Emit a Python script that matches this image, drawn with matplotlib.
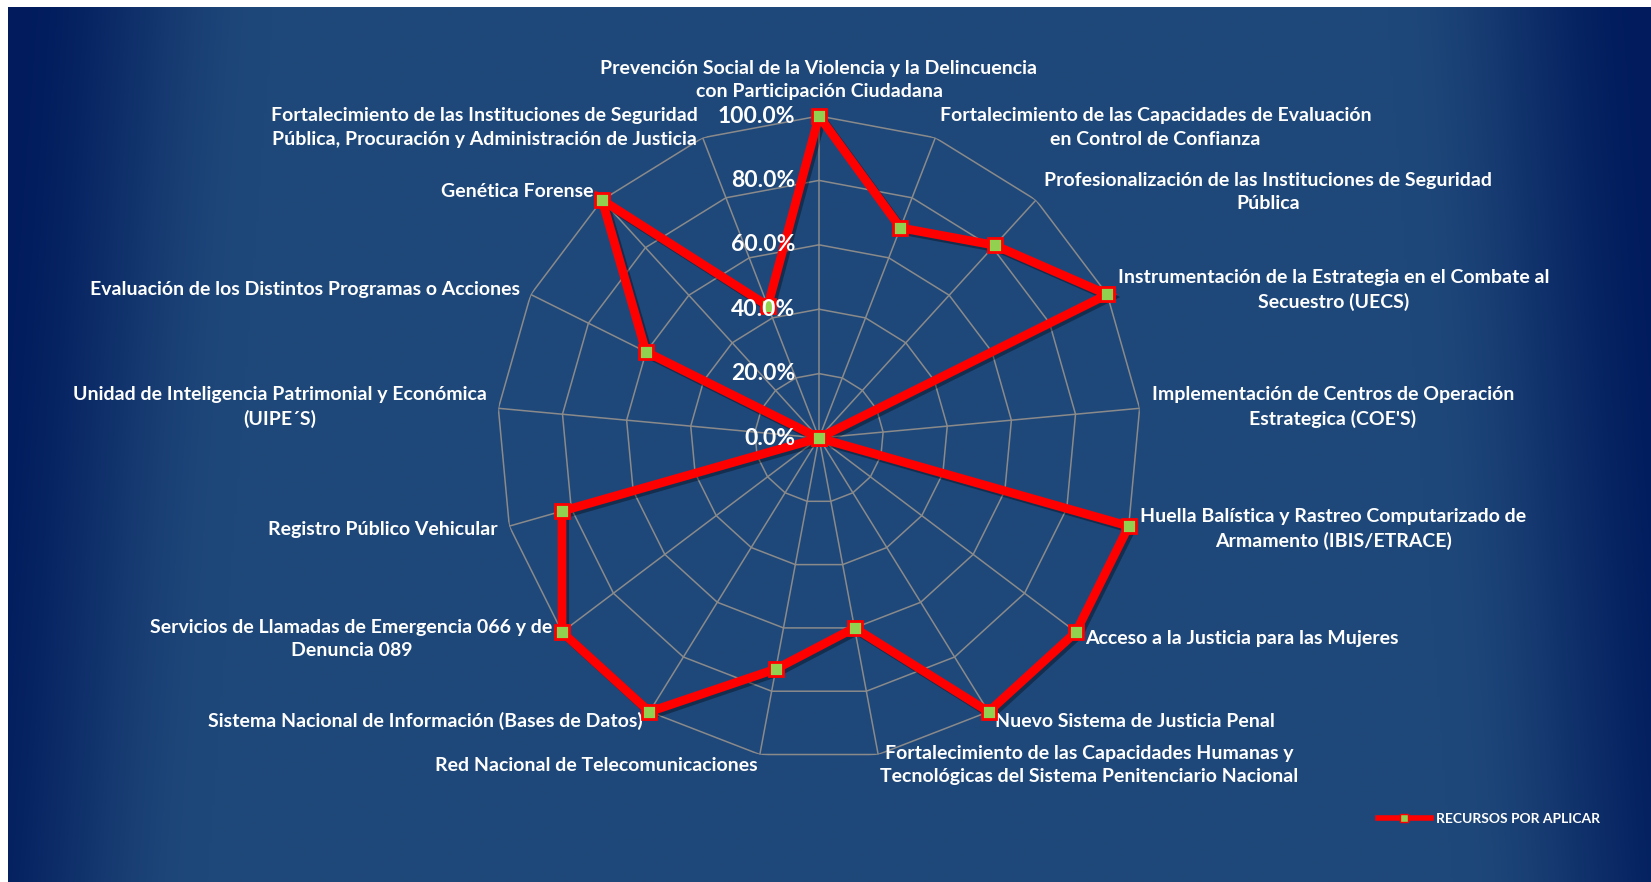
"""
Radar chart: share of resources still to be applied per federal programme.
"""
import matplotlib
matplotlib.use("Agg")
import matplotlib.pyplot as plt
import matplotlib.patheffects as pe
from matplotlib.lines import Line2D
import numpy as np

plt.rcParams["font.family"] = ["Lato", "DejaVu Sans"]

CATEGORIES = [
  "Prevención Social de la Violencia y la Delincuencia\ncon Participación Ciudadana",
  "Fortalecimiento de las Capacidades de Evaluación\nen Control de Confianza",
  "Profesionalización de las Instituciones de Seguridad\nPública",
  "Instrumentación de la Estrategia en el Combate al\nSecuestro (UECS)",
  "Implementación de Centros de Operación\nEstrategica (COE'S)",
  "Huella Balística y Rastreo Computarizado de\nArmamento (IBIS/ETRACE)",
  "Acceso a la Justicia para las Mujeres",
  "Nuevo Sistema de Justicia Penal",
  "Fortalecimiento de las Capacidades Humanas y\nTecnológicas del Sistema Penitenciario Nacional",
  "Red Nacional de Telecomunicaciones",
  "Sistema Nacional de Información (Bases de Datos)",
  "Servicios de Llamadas de Emergencia 066 y de\nDenuncia 089",
  "Registro Público Vehicular",
  "Unidad de Inteligencia Patrimonial y Económica\n(UIPE´S)",
  "Evaluación de los Distintos Programas o Acciones",
  "Genética Forense",
  "Fortalecimiento de las Instituciones de Seguridad\nPública, Procuración y Administración de Justicia",
]
RECURSOS = [1.00, 0.70, 0.81, 1.00, 0.00, 1.00, 1.00, 1.00, 0.60,
            0.73, 1.00, 1.00, 0.83, 0.00, 0.60, 1.00, 0.44]
TICKS = [0.0, 0.2, 0.4, 0.6, 0.8, 1.0]
TICK_LABELS = ["0.0%", "20.0%", "40.0%", "60.0%", "80.0%", "100.0%"]
SERIES_NAME = "RECURSOS POR APLICAR"

W, H = 1651, 882
fig = plt.figure(figsize=(W / 100, H / 100), dpi=100)
fig.patch.set_facecolor("white")

# background: navy gradient, lighter in the middle, dark toward left/right edges
bg = fig.add_axes([8 / W, 0, 1 - 8 / W, 1 - 7 / H])
xs = np.linspace(0, 1, 600)
ys = np.linspace(0, 1, 300)
X, Y = np.meshgrid(xs, ys)
d = np.minimum(X + 0.04 * (1 - Y), 1 - X + 0.04 * (1 - Y))
t = np.clip(d / 0.16, 0, 1)
t = t * t * (3 - 2 * t)
edge = np.array([1, 27, 92]) / 255
mid = np.array([31, 72, 122]) / 255
img = edge[None, None, :] * (1 - t[..., None]) + mid[None, None, :] * t[..., None]
bg.imshow(img, aspect="auto", extent=[0, 1, 0, 1], origin="lower")
bg.axis("off")

# polar axes centred at (819, 438) px with radius 322 px
cx, cy, R = 819, 438, 322
ax = fig.add_axes([(cx - R) / W, (H - cy - R) / H, 2 * R / W, 2 * R / H], polar=True)
ax.set_facecolor("none")
ax.set_theta_zero_location("N")
ax.set_theta_direction(-1)
ax.set_ylim(0, 1)
ax.grid(False)
ax.set_xticks([])
ax.set_yticks([])
ax.spines["polar"].set_visible(False)

n = len(CATEGORIES)
theta = np.arange(n) * 2 * np.pi / n
theta_c = np.append(theta, theta[0])

grid_kw = dict(color="#8a8a8a", lw=1.1, zorder=1)
for r in TICKS[1:]:
  ax.plot(theta_c, [r] * (n + 1), **grid_kw)
for a in theta:
  ax.plot([a, a], [0, 1], **grid_kw)

vals = np.append(RECURSOS, RECURSOS[0])
ax.plot(theta_c, vals, color="#ff0000", lw=6.3, zorder=3, solid_joinstyle="miter",
        clip_on=False,
        path_effects=[pe.SimpleLineShadow(offset=(2, -2), alpha=0.35), pe.Normal()])
ax.plot(theta, RECURSOS, ls="none", marker="s", ms=10, mfc="#92d050", mec="#ff0000",
        mew=2, zorder=4, clip_on=False)

for r, lab in zip(TICKS, TICK_LABELS):
  ax.annotate(lab, xy=(0, r), xytext=(-24, 0), textcoords="offset pixels",
              ha="right", va="center", color="white", fontsize=16.5,
              fontweight="bold", zorder=5)

for a, lab in zip(theta, CATEGORIES):
  s, c = np.sin(a), np.cos(a)
  ha = "left" if s > 0.1 else ("right" if s < -0.1 else "center")
  if abs(s) < 0.1 and c > 0:
    va, dx, dy = "bottom", 0, 16
  else:
    va, dx, dy = "center", 12 * s, 11 * c
  ax.annotate(lab, xy=(a, 1), xytext=(dx, dy), textcoords="offset pixels",
              ha=ha, va=va, multialignment="center", color="white",
              fontsize=14, fontweight="bold", linespacing=1.45,
              annotation_clip=False)

handle = Line2D([], [], color="#ff0000", lw=4, marker="s", ms=6,
                mfc="#92d050", mec="#ff0000", mew=1)
leg = fig.legend([handle], [SERIES_NAME], loc="center left",
                 bbox_to_anchor=(1378 / W, 1 - 819 / H), frameon=False,
                 borderpad=0, borderaxespad=0, handlelength=3.8, handletextpad=0.4,
                 prop=dict(size=10, weight="bold"))
for txt in leg.get_texts():
  txt.set_color("white")

fig.savefig("out.png", dpi=100, facecolor=fig.get_facecolor())
